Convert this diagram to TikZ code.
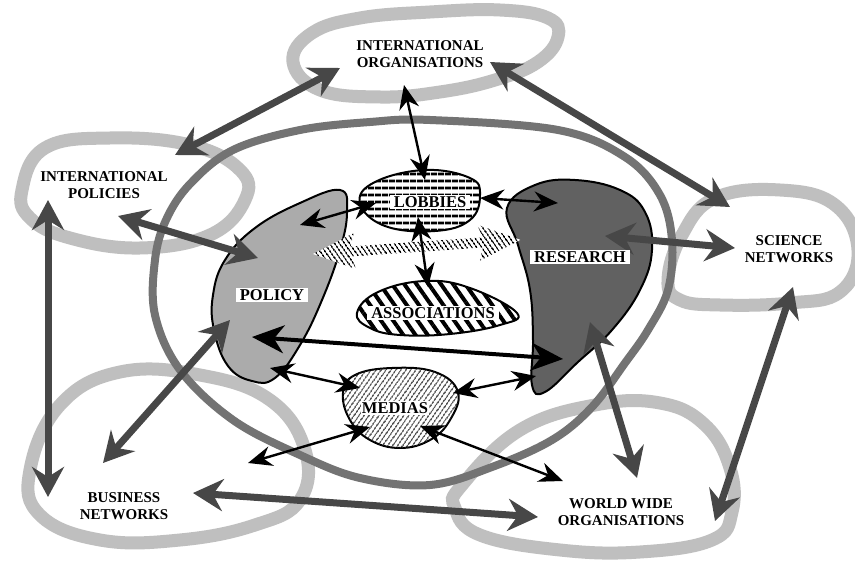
\documentclass[tikz,border=0pt]{standalone}
\usepackage{fontspec}
\setmainfont{Liberation Serif}
\usetikzlibrary{arrows.meta, positioning, patterns.meta}

\tikzset{
  ring/.style={line width=13pt, black!25},
  corering/.style={line width=8pt, black!55},
  blob/.style={draw=black, line width=2pt},
  widearrow/.style={line width=7pt, black!72, >={Stealth[length=30pt,width=32pt,inset=10pt]}, <->},
  thinarrow/.style={line width=2.4pt, black, >={Stealth[length=24pt,width=20pt,inset=8pt]}, <->},
  heavyarrow/.style={line width=4pt, black, >={Stealth[length=32pt,width=28pt,inset=10pt]}, <->},
  outerlabel/.style={font=\fontsize{15}{17}\selectfont\bfseries, align=center},
  innerlabel/.style={font=\fontsize{16.5}{18}\selectfont\bfseries, fill=white, inner xsep=4pt, inner ysep=1.5pt},
}

\begin{document}
\begin{tikzpicture}[x=1pt, y=-1pt]
  \useasboundingbox (0,0) rectangle (855,561);
  \fill[white] (0,0) rectangle (855,561);

  % outer loops
  \begin{scope}
    \clip (0,0) rectangle (855,561);
    \draw[ring] plot[smooth cycle, tension=0.7] coordinates {(293,62) (312,33) (360,18) (430,12) (500,10) (548,18) (558,37) (538,62) (495,80) (440,92) (380,97) (320,90)};
    \draw[ring] plot[smooth cycle, tension=0.7] coordinates {(22,190) (45,148) (110,138) (190,145) (240,170) (245,200) (210,235) (140,248) (70,238) (30,218)};
    \draw[ring] plot[smooth cycle, tension=0.7] coordinates {(668,280) (682,235) (715,198) (780,190) (835,205) (858,250) (840,292) (790,303) (720,305) (680,300)};
    \draw[ring] plot[smooth cycle, tension=0.7] coordinates {(30,470) (60,405) (120,372) (200,375) (270,400) (305,450) (300,500) (255,525) (180,540) (100,540) (40,515)};
    \draw[ring] plot[smooth cycle, tension=0.7] coordinates {(462,485) (520,430) (595,405) (660,403) (705,425) (730,468) (732,512) (712,540) (640,552) (560,550) (480,535) (455,508)};
  \end{scope}

  % central loop
  \draw[corering] plot[smooth cycle, tension=0.6] coordinates {(430,120) (558,130) (625,157) (660,195) (672,240) (668,290) (648,330) (625,363) (592,407) (552,440) (492,467) (430,485) (360,478) (300,455) (233,420) (180,370) (155,315) (155,260) (166,220) (190,184) (233,150) (300,130) (370,122)};

  % policy and research
  \filldraw[blob, fill=black!33] plot[smooth cycle, tension=0.7] coordinates {(340,190) (347,212) (340,250) (322,300) (300,345) (275,378) (252,381) (228,366) (214,330) (213,295) (225,260) (255,228) (300,203)};
  \filldraw[blob, fill=black!62] plot[smooth cycle, tension=0.7] coordinates {(507,208) (535,185) (575,180) (620,190) (645,212) (652,250) (640,290) (612,330) (578,362) (545,392) (532,385) (533,340) (530,290) (518,245)};

  % hatched policy-research arrow
  \begin{scope}[shift={(313,254)}, rotate=3.9]
    \path[preaction={fill=white}, pattern={Lines[angle=-55, distance=4pt, line width=1.7pt]}]
      (0,0) -- (42,-18) -- (38,-5) -- (170,-5) -- (166,-18) -- (208,0)
      -- (166,18) -- (170,5) -- (38,5) -- (42,18) -- cycle;
  \end{scope}

  % lobbies, associations, medias
  \filldraw[blob, fill=white, postaction={pattern={Lines[angle=0, distance=6.5pt, line width=3pt]}}]
    plot[smooth cycle, tension=0.7] coordinates {(360,203) (375,182) (425,170) (470,178) (480,195) (470,220) (435,231) (385,226)};
  \filldraw[blob, fill=white, postaction={pattern={Lines[angle=-55, distance=10pt, line width=4pt]}}]
    plot[smooth cycle, tension=0.7] coordinates {(357,313) (378,292) (425,281) (470,288) (517,313) (500,325) (450,334) (400,335) (370,328)};
  \filldraw[blob, fill=white, postaction={pattern={Lines[angle=55, distance=4pt, line width=1.2pt]}}]
    plot[smooth cycle, tension=0.7] coordinates {(343,393) (355,375) (392,368) (435,372) (458,392) (450,420) (430,440) (400,448) (370,440) (350,420)};

  % arrow ends
  \coordinate (ioW) at (340,68);   \coordinate (ipN) at (175,155);
  \coordinate (ioE) at (490,62);   \coordinate (snN) at (730,207);
  \coordinate (ipS) at (48,200);   \coordinate (bnN) at (48,497);
  \coordinate (ipE) at (118,216);  \coordinate (polW) at (258,258);
  \coordinate (polS) at (230,320); \coordinate (bnE) at (103,463);
  \coordinate (resE) at (605,236); \coordinate (snW) at (735,248);
  \coordinate (resS) at (590,322); \coordinate (wwN) at (637,478);
  \coordinate (snS) at (793,287);  \coordinate (wwE) at (715,521);
  \coordinate (bnS) at (193,493);  \coordinate (wwW) at (538,517);
  \coordinate (ioS) at (404,85);   \coordinate (lobN) at (425,180);
  \coordinate (lobW) at (376,203); \coordinate (polNE) at (300,225);
  \coordinate (lobE) at (480,198); \coordinate (resNW) at (558,203);
  \coordinate (lobS) at (418,217); \coordinate (asN) at (428,287);
  \coordinate (polE) at (252,337); \coordinate (resW) at (563,359);
  \coordinate (polSE) at (270,368); \coordinate (medW) at (360,388);
  \coordinate (medE) at (453,393); \coordinate (resSW) at (536,376);
  \coordinate (medSW) at (370,427); \coordinate (bnNE) at (248,463);
  \coordinate (medSE) at (420,426); \coordinate (wwNW) at (563,481);

  % gray arrows
  \foreach \a/\b in {ioW/ipN, ioE/snN, ipS/bnN, ipE/polW, polS/bnE, resE/snW, resS/wwN, snS/wwE, bnS/wwW}
    \draw[widearrow] (\a) -- (\b);
  % black arrows
  \foreach \a/\b in {ioS/lobN, lobW/polNE, lobE/resNW, lobS/asN, polSE/medW, medE/resSW, medSW/bnNE, medSE/wwNW}
    \draw[thinarrow] (\a) -- (\b);
  \draw[heavyarrow] (polE) -- (resW);

  % labels
  \node[outerlabel] (intorg) at (420,54) {INTERNATIONAL\\ORGANISATIONS};
  \node[outerlabel] (intpol) at (104,185) {INTERNATIONAL\\POLICIES};
  \node[outerlabel] (scinet) at (789,249) {SCIENCE\\NETWORKS};
  \node[outerlabel] (busnet) at (124,506) {BUSINESS\\NETWORKS};
  \node[outerlabel] (wwo) at (621,512) {WORLD WIDE\\ORGANISATIONS};
  \node[innerlabel] (policy) at (272,295) {POLICY};
  \node[innerlabel] (research) at (580,257) {RESEARCH};
  \node[innerlabel] (lobbies) at (430,202) {LOBBIES};
  \node[innerlabel] (assoc) at (433,313) {ASSOCIATIONS};
  \node[font=\fontsize{16.5}{18}\selectfont\bfseries, fill=white, inner sep=1pt] (medias) at (395,408) {MEDIAS};
\end{tikzpicture}
\end{document}
